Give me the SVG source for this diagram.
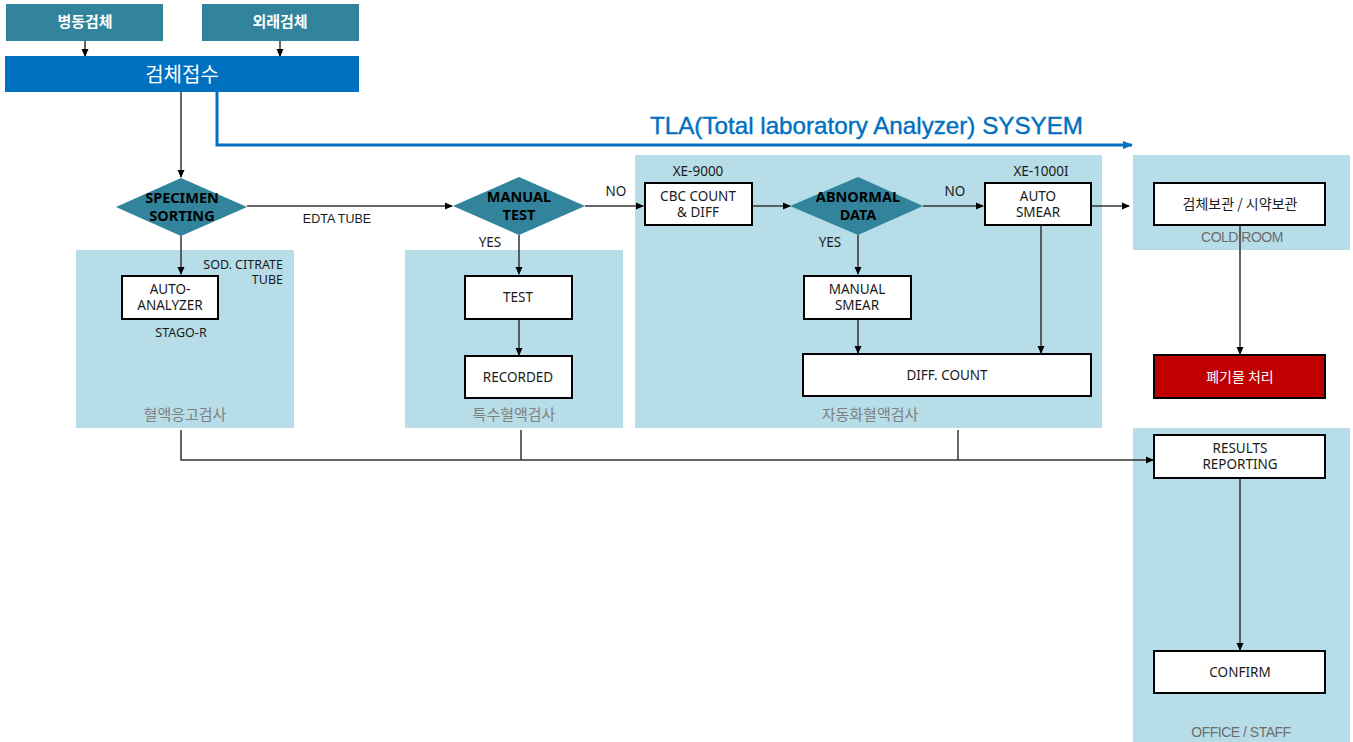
<svg xmlns="http://www.w3.org/2000/svg" width="1353" height="742" viewBox="0 0 1353 742">
<defs>
<marker id="ah" markerWidth="8" markerHeight="8" refX="7" refY="4" orient="auto" markerUnits="userSpaceOnUse">
<path d="M0,0.5 L8,4 L0,7.5 Z" fill="#000"/>
</marker>
<marker id="ahb" markerWidth="10" markerHeight="10" refX="9" refY="5" orient="auto" markerUnits="userSpaceOnUse">
<path d="M0,1 L10,5 L0,9 Z" fill="#0070C0"/>
</marker>
<style>
.t{font-family:"Noto Sans","Noto Sans CJK KR",sans-serif;font-size:13.5px;fill:#1a1a1a;text-anchor:middle}
.kr{font-family:"Noto Sans CJK KR",sans-serif;text-anchor:middle}
.hd{font-size:15px;font-weight:bold;fill:#fff}
.dia{fill:#31849B}
.dt{font-family:"Noto Sans","Noto Sans CJK KR",sans-serif;font-size:14.5px;font-weight:bold;fill:#000;text-anchor:middle}
.box{fill:#fff;stroke:#000;stroke-width:2}
.pan{fill:#B7DDE8}
.pl{font-family:"Noto Sans CJK KR",sans-serif;font-size:15px;fill:#7f7f7f;text-anchor:middle}
.gl{font-family:"Liberation Sans",Arial,sans-serif;font-size:14px;fill:#6d6d6d;text-anchor:middle;letter-spacing:-0.5px}
.c{fill:none;stroke:#333;stroke-width:1.5}
.ca{fill:none;stroke:#333;stroke-width:1.5;marker-end:url(#ah)}
</style>
</defs>
<g id="panels">
<rect class="pan" x="76" y="250" width="218" height="178"/>
<rect class="pan" x="405" y="250" width="218" height="178"/>
<rect class="pan" x="635" y="155" width="467" height="273"/>
<rect class="pan" x="1133" y="155" width="217" height="95"/>
<rect class="pan" x="1133" y="428" width="217" height="314"/>
<text class="pl" x="185" y="420">혈액응고검사</text>
<text class="pl" x="514" y="420">특수혈액검사</text>
<text class="pl" x="870" y="420">자동화혈액검사</text>
<text class="gl" x="1242" y="242">COLD ROOM</text>
<text class="gl" x="1241" y="737">OFFICE / STAFF</text>
</g>
<g id="connectors">
<path class="ca" d="M85,41 V56"/>
<path class="ca" d="M280,41 V56"/>
<path class="ca" d="M181,92 V177"/>
<path d="M217,92 V145 H1132" fill="none" stroke="#0070C0" stroke-width="3" marker-end="url(#ahb)"/>
<path class="ca" d="M247,206 H452"/>
<path class="ca" d="M181,236 V274"/>
<path class="ca" d="M585,206 H643"/>
<path class="ca" d="M519,235 V274"/>
<path class="ca" d="M519,319 V355"/>
<path class="ca" d="M752,206 H790"/>
<path class="ca" d="M923,206 H983"/>
<path class="ca" d="M858,235 V274"/>
<path class="ca" d="M858,319 V353"/>
<path class="ca" d="M1041,225 V353"/>
<path class="ca" d="M1091,206 H1129"/>
<path class="ca" d="M1240,225 V354"/>
<path class="ca" d="M181,430 V460 H1153"/>
<path class="c" d="M521,430 V460"/>
<path class="c" d="M958,430 V460"/>
<path class="ca" d="M1240,478 V650"/>
<text class="t" x="337" y="223" style="font-family:'Liberation Sans',Arial,sans-serif;font-size:12.5px">EDTA TUBE</text>
<text class="t" x="616" y="196">NO</text>
<text class="t" x="490" y="247">YES</text>
<text class="t" x="955" y="196">NO</text>
<text class="t" x="830" y="247">YES</text>
<text class="t" x="283" y="269" style="text-anchor:end;font-size:12.5px">SOD. CITRATE</text>
<text class="t" x="283" y="284" style="text-anchor:end;font-size:12.5px">TUBE</text>
<text class="t" x="181" y="337" style="font-size:12.5px">STAGO-R</text>
<text class="t" x="698" y="176">XE-9000</text>
<text class="t" x="1041" y="176">XE-1000I</text>
</g>
<g id="n-ward">
<rect x="6" y="4" width="157" height="37" fill="#31849B"/>
<text class="kr hd" x="85" y="27">병동검체</text>
</g>
<g id="n-outpatient">
<rect x="202" y="4" width="157" height="37" fill="#31849B"/>
<text class="kr hd" x="280" y="27">외래검체</text>
</g>
<g id="n-reception">
<rect x="5" y="56" width="354" height="36" fill="#0070C0"/>
<text class="kr" x="182" y="82" style="font-size:20px;fill:#fff">검체접수</text>
</g>
<g id="n-tla">
<text x="650" y="134" textLength="433" lengthAdjust="spacingAndGlyphs" style="font-family:'Liberation Sans',Arial,sans-serif;font-size:24px;fill:#0070C0;stroke:#0070C0;stroke-width:0.4">TLA(Total laboratory Analyzer) SYSYEM</text>
</g>
<g id="n-sorting">
<polygon class="dia" points="181,178 247,207 181,236 116,207"/>
<text class="dt" x="182" y="203">SPECIMEN</text>
<text class="dt" x="182" y="221">SORTING</text>
</g>
<g id="n-manual-test">
<polygon class="dia" points="519,177 585,206 519,235 453,206"/>
<text class="dt" x="519" y="202">MANUAL</text>
<text class="dt" x="519" y="220">TEST</text>
</g>
<g id="n-abnormal">
<polygon class="dia" points="858,177 923,206 858,235 790,206"/>
<text class="dt" x="858" y="202">ABNORMAL</text>
<text class="dt" x="858" y="220">DATA</text>
</g>
<g id="n-autoanalyzer">
<rect class="box" x="122" y="276" width="96" height="43"/>
<text class="t" x="170" y="294">AUTO-</text>
<text class="t" x="170" y="310">ANALYZER</text>
</g>
<g id="n-test">
<rect class="box" x="465" y="276" width="107" height="43"/>
<text class="t" x="518" y="302">TEST</text>
</g>
<g id="n-recorded">
<rect class="box" x="465" y="356" width="107" height="42"/>
<text class="t" x="518" y="382">RECORDED</text>
</g>
<g id="n-cbc">
<rect class="box" x="645" y="183" width="107" height="42"/>
<text class="t" x="698" y="201">CBC COUNT</text>
<text class="t" x="698" y="217">&amp; DIFF</text>
</g>
<g id="n-autosmear">
<rect class="box" x="985" y="183" width="106" height="42"/>
<text class="t" x="1038" y="201">AUTO</text>
<text class="t" x="1038" y="217">SMEAR</text>
</g>
<g id="n-manualsmear">
<rect class="box" x="804" y="276" width="107" height="43"/>
<text class="t" x="857" y="294">MANUAL</text>
<text class="t" x="857" y="310">SMEAR</text>
</g>
<g id="n-diffcount">
<rect class="box" x="803" y="354" width="288" height="42"/>
<text class="t" x="947" y="380">DIFF. COUNT</text>
</g>
<g id="n-storage">
<rect class="box" x="1154" y="183" width="171" height="42"/>
<text class="kr" x="1240" y="209" style="font-size:14px;fill:#1a1a1a">검체보관 / 시약보관</text>
</g>
<g id="n-waste">
<rect x="1154" y="355" width="171" height="43" fill="#C00000" stroke="#000" stroke-width="2"/>
<text class="kr" x="1240" y="382" style="font-size:14px;fill:#fff">폐기물 처리</text>
</g>
<g id="n-results">
<rect class="box" x="1154" y="435" width="171" height="43"/>
<text class="t" x="1240" y="453">RESULTS</text>
<text class="t" x="1240" y="469">REPORTING</text>
</g>
<g id="n-confirm">
<rect class="box" x="1154" y="651" width="171" height="42"/>
<text class="t" x="1240" y="677">CONFIRM</text>
</g>
</svg>
